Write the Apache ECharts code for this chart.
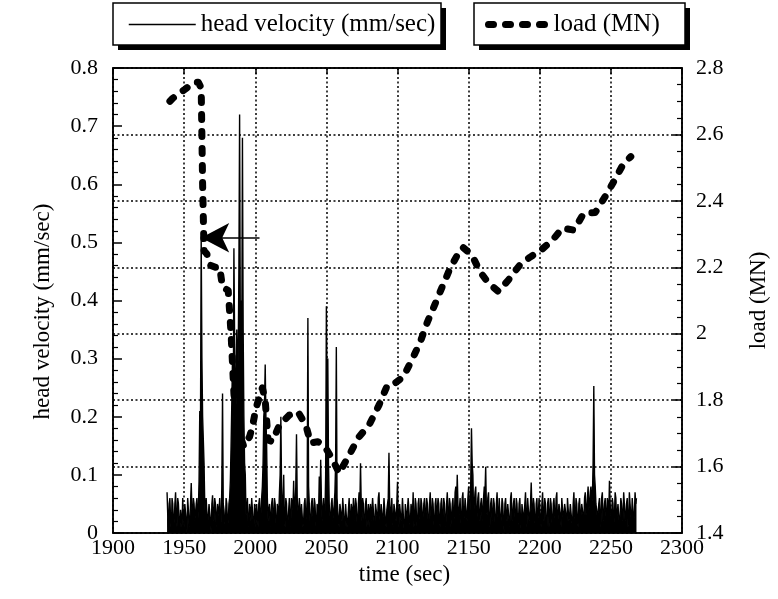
<!DOCTYPE html>
<html>
<head>
<meta charset="utf-8">
<title>head velocity and load</title>
<script src="https://cdn.jsdelivr.net/npm/echarts@6/dist/echarts.min.js"></script>
<style>
  html, body { margin: 0; padding: 0; background: #fff; }
  #chart { width: 778px; height: 599px; }
</style>
</head>
<body>
<div id="chart"></div>
<script>
// Logged head velocity (mm/sec). The logger writes two readings per second:
// one on the whole second (headVelocityWhole) and one half a second later
// (headVelocityHalf), both starting at velocityStartSec.
const velocityStartSec = 1938;
const headVelocityWhole = [
  0.07, 0.01, 0.06, 0.00, 0.05, 0.02, 0.07, 0.01, 0.05, 0.00,
  0.04, 0.06, 0.01, 0.05, 0.00, 0.04, 0.02, 0.086, 0.01, 0.05,
  0.02, 0.06, 0.04, 0.21, 0.51, 0.20, 0.12, 0.02, 0.06, 0.01,
  0.05, 0.00, 0.065, 0.02, 0.05, 0.01, 0.04, 0.06, 0.02, 0.24,
  0.04, 0.01, 0.05, 0.02, 0.06, 0.15, 0.30, 0.49, 0.25, 0.35,
  0.30, 0.72, 0.40, 0.68, 0.20, 0.10, 0.04, 0.01, 0.05, 0.02,
  0.06, 0.00, 0.04, 0.05, 0.01, 0.06, 0.03, 0.08, 0.20, 0.29,
  0.15, 0.02, 0.05, 0.01, 0.06, 0.02, 0.05, 0.00, 0.04, 0.07,
  0.20, 0.03, 0.10, 0.01, 0.05, 0.02, 0.06, 0.01, 0.05, 0.09,
  0.02, 0.17, 0.04, 0.06, 0.01, 0.05, 0.02, 0.06, 0.03, 0.37,
  0.05, 0.01, 0.06, 0.02, 0.05, 0.00, 0.04, 0.097, 0.126, 0.02,
  0.06, 0.03, 0.39, 0.30, 0.05, 0.01, 0.06, 0.02, 0.07, 0.32,
  0.04, 0.01, 0.05, 0.02, 0.06, 0.00, 0.05, 0.02, 0.06, 0.01,
  0.04, 0.06, 0.02, 0.05, 0.01, 0.07, 0.12, 0.02, 0.05, 0.01,
  0.06, 0.03, 0.01, 0.05, 0.02, 0.06, 0.00, 0.05, 0.02, 0.07,
  0.01, 0.05, 0.03, 0.06, 0.01, 0.05, 0.138, 0.02, 0.06, 0.01,
  0.05, 0.02, 0.088, 0.01, 0.05, 0.03, 0.06, 0.00, 0.05, 0.02,
  0.06, 0.01, 0.04, 0.07, 0.02, 0.05, 0.00, 0.06, 0.02, 0.05,
  0.01, 0.06, 0.03, 0.05, 0.01, 0.07, 0.02, 0.05, 0.00, 0.06,
  0.02, 0.05, 0.01, 0.06, 0.03, 0.05, 0.01, 0.07, 0.02, 0.05,
  0.01, 0.06, 0.03, 0.08, 0.10, 0.02, 0.06, 0.01, 0.07, 0.03,
  0.06, 0.02, 0.08, 0.04, 0.18, 0.10, 0.05, 0.08, 0.03, 0.07,
  0.02, 0.06, 0.04, 0.08, 0.114, 0.03, 0.07, 0.01, 0.06, 0.03,
  0.05, 0.01, 0.07, 0.02, 0.06, 0.03, 0.05, 0.00, 0.06, 0.02,
  0.05, 0.01, 0.07, 0.03, 0.06, 0.01, 0.05, 0.02, 0.06, 0.00,
  0.05, 0.02, 0.07, 0.01, 0.06, 0.03, 0.087, 0.02, 0.05, 0.01,
  0.06, 0.03, 0.05, 0.01, 0.07, 0.02, 0.05, 0.00, 0.06, 0.03,
  0.05, 0.01, 0.06, 0.02, 0.07, 0.03, 0.05, 0.01, 0.06, 0.02,
  0.05, 0.00, 0.06, 0.03, 0.05, 0.01, 0.07, 0.02, 0.05, 0.01,
  0.06, 0.03, 0.05, 0.02, 0.07, 0.04, 0.08, 0.05, 0.08, 0.06,
  0.253, 0.08, 0.04, 0.02, 0.06, 0.01, 0.07, 0.03, 0.06, 0.02,
  0.05, 0.09, 0.03, 0.06, 0.01, 0.07, 0.02, 0.05, 0.01, 0.06,
  0.03, 0.07, 0.02, 0.05, 0.01, 0.07, 0.03, 0.06, 0.02, 0.07,
  0.06
];
const headVelocityHalf = [
  0.03, 0.05, 0.02, 0.06, 0.01, 0.05, 0.03, 0.06, 0.02, 0.04,
  0.01, 0.03, 0.05, 0.02, 0.06, 0.01, 0.05, 0.04, 0.06, 0.02,
  0.05, 0.01, 0.09, 0.18, 0.30, 0.16, 0.05, 0.06, 0.01, 0.05,
  0.02, 0.05, 0.03, 0.06, 0.01, 0.05, 0.03, 0.01, 0.08, 0.05,
  0.02, 0.06, 0.01, 0.05, 0.09, 0.22, 0.18, 0.33, 0.20, 0.28,
  0.45, 0.35, 0.30, 0.35, 0.12, 0.03, 0.06, 0.02, 0.04, 0.06,
  0.02, 0.05, 0.01, 0.03, 0.05, 0.02, 0.06, 0.12, 0.22, 0.20,
  0.06, 0.04, 0.01, 0.05, 0.03, 0.06, 0.02, 0.05, 0.03, 0.10,
  0.08, 0.05, 0.02, 0.06, 0.01, 0.04, 0.03, 0.06, 0.04, 0.02,
  0.08, 0.06, 0.02, 0.04, 0.05, 0.01, 0.05, 0.02, 0.06, 0.08,
  0.02, 0.05, 0.03, 0.06, 0.02, 0.05, 0.03, 0.05, 0.06, 0.04,
  0.02, 0.10, 0.25, 0.12, 0.03, 0.05, 0.02, 0.05, 0.12, 0.06,
  0.02, 0.05, 0.03, 0.06, 0.02, 0.05, 0.01, 0.04, 0.03, 0.05,
  0.02, 0.04, 0.06, 0.02, 0.05, 0.04, 0.05, 0.06, 0.02, 0.05,
  0.01, 0.05, 0.04, 0.02, 0.06, 0.02, 0.05, 0.03, 0.06, 0.03,
  0.05, 0.02, 0.06, 0.02, 0.04, 0.06, 0.05, 0.04, 0.02, 0.05,
  0.03, 0.05, 0.03, 0.05, 0.02, 0.06, 0.01, 0.05, 0.02, 0.06,
  0.02, 0.05, 0.03, 0.01, 0.06, 0.02, 0.05, 0.03, 0.06, 0.01,
  0.05, 0.02, 0.06, 0.02, 0.05, 0.03, 0.06, 0.02, 0.05, 0.02,
  0.06, 0.02, 0.05, 0.01, 0.06, 0.02, 0.05, 0.03, 0.06, 0.01,
  0.05, 0.02, 0.07, 0.04, 0.05, 0.04, 0.02, 0.06, 0.02, 0.06,
  0.03, 0.06, 0.02, 0.09, 0.12, 0.03, 0.07, 0.02, 0.06, 0.03,
  0.05, 0.02, 0.06, 0.07, 0.04, 0.06, 0.02, 0.05, 0.02, 0.06,
  0.02, 0.05, 0.03, 0.06, 0.01, 0.06, 0.02, 0.05, 0.03, 0.05,
  0.02, 0.06, 0.02, 0.05, 0.03, 0.06, 0.01, 0.05, 0.02, 0.05,
  0.02, 0.05, 0.03, 0.06, 0.02, 0.05, 0.04, 0.06, 0.02, 0.05,
  0.02, 0.06, 0.02, 0.05, 0.03, 0.06, 0.02, 0.05, 0.01, 0.06,
  0.02, 0.05, 0.03, 0.06, 0.01, 0.05, 0.03, 0.06, 0.02, 0.05,
  0.03, 0.06, 0.02, 0.05, 0.02, 0.05, 0.03, 0.06, 0.02, 0.05,
  0.02, 0.05, 0.03, 0.06, 0.03, 0.06, 0.04, 0.07, 0.05, 0.12,
  0.10, 0.05, 0.02, 0.05, 0.03, 0.06, 0.02, 0.05, 0.03, 0.06,
  0.03, 0.05, 0.02, 0.05, 0.03, 0.06, 0.02, 0.05, 0.03, 0.05,
  0.02, 0.05, 0.03, 0.06, 0.02, 0.05, 0.02, 0.06, 0.03, 0.05
];

// Load readings (time in sec, load in MN)
const loadTime = [
  1940, 1942, 1950, 1957, 1960, 1962, 1963, 1964, 1966, 1968,
  1972, 1975, 1977, 1981, 1983, 1985, 1987, 1992, 1996, 1998,
  2000.5, 2005, 2007, 2009, 2012, 2017, 2024, 2030, 2035.5, 2039,
  2044, 2049.5, 2054, 2059, 2066, 2073, 2080, 2087, 2093, 2098,
  2104, 2110, 2116, 2121, 2126, 2132, 2137, 2144, 2146, 2151,
  2154, 2158, 2164, 2171, 2178, 2186, 2193, 2201, 2209, 2216,
  2224, 2231, 2239, 2246, 2252, 2259, 2264
];
const loadMN = [
  2.70, 2.709, 2.734, 2.757, 2.757, 2.74, 2.45, 2.25, 2.24, 2.207,
  2.20, 2.20, 2.14, 2.13, 2.00, 1.82, 1.72, 1.66, 1.69, 1.72,
  1.776, 1.837, 1.80, 1.68, 1.675, 1.725, 1.755, 1.765, 1.725, 1.671,
  1.675, 1.656, 1.624, 1.58, 1.635, 1.69, 1.725, 1.785, 1.846, 1.85,
  1.87, 1.92, 1.975, 2.035, 2.085, 2.147, 2.197, 2.252, 2.26, 2.242,
  2.222, 2.187, 2.152, 2.127, 2.162, 2.207, 2.23, 2.252, 2.282, 2.318,
  2.312, 2.363, 2.365, 2.413, 2.458, 2.513, 2.533
];

// Axis ranges and tick steps
const timeRange = [1900, 2300];
const timeStep = 50;
const velocityRange = [0, 0.8];
const velocityStep = 0.1;
const loadRange = [1.4, 2.8];
const loadStep = 0.2;

// Arrow pointing back at the first velocity burst: [time, velocity]
const arrowTail = [2003, 0.508];
const arrowHead = [1962, 0.508];

const velocityName = 'head velocity (mm/sec)';
const loadName = 'load (MN)';

// Merge the two reading streams into one time-ordered trace
const velocityData = [];
headVelocityWhole.forEach((v, i) => {
  velocityData.push([velocityStartSec + i, v]);
  if (i < headVelocityHalf.length) {
    velocityData.push([velocityStartSec + i + 0.5, headVelocityHalf[i]]);
  }
});
const loadData = loadTime.map((t, i) => [t, loadMN[i]]);

const serif = 'Liberation Serif';
const ink = '#000';
const dotted = { color: ink, width: 1.5, type: [2, 2.5] };
const axisLineStyle = { show: true, lineStyle: { color: ink, width: 1.5 } };
const tickFont = { fontFamily: serif, fontSize: 22, color: ink };
const nameFont = { fontFamily: serif, fontSize: 23, color: ink };

// Framed legend boxes with a solid drop shadow
function legendFrame(x, y, w, h) {
  return [
    { type: 'rect', z: 0, silent: true, shape: { x: x + 5, y: y + 5, width: w, height: h }, style: { fill: ink } },
    { type: 'rect', z: 1, silent: true, shape: { x: x, y: y, width: w, height: h }, style: { fill: '#fff', stroke: ink, lineWidth: 1.5 } }
  ];
}

const legendCommon = {
  orient: 'horizontal',
  top: 12,
  padding: 0,
  z: 5,
  selectedMode: false,
  itemHeight: 14,
  itemStyle: { opacity: 0 },
  textStyle: { fontFamily: serif, fontSize: 25, color: ink }
};

const chart = echarts.init(document.getElementById('chart'), null, { renderer: 'canvas' });

chart.setOption({
  animation: false,
  backgroundColor: '#fff',
  textStyle: { fontFamily: serif, color: ink },
  graphic: legendFrame(113, 3, 328, 42).concat(legendFrame(474, 3, 211, 42)),
  grid: {
    left: 113, right: 93, top: 68, bottom: 66,
    show: true, borderColor: ink, borderWidth: 1.5, backgroundColor: 'transparent'
  },
  legend: [
    Object.assign({}, legendCommon, {
      data: [velocityName], left: 128,
      itemWidth: 67, itemGap: 5,
      lineStyle: { width: 1.5, color: ink }
    }),
    Object.assign({}, legendCommon, {
      data: [loadName], left: 485,
      itemWidth: 60, itemGap: 8,
      lineStyle: { width: 7, color: ink, type: [5, 12], cap: 'round' }
    })
  ],
  xAxis: [
    {
      type: 'value', position: 'bottom',
      min: timeRange[0], max: timeRange[1], interval: timeStep,
      name: 'time (sec)', nameLocation: 'middle', nameGap: 28,
      nameTextStyle: Object.assign({ padding: [0, 0, 0, 14] }, nameFont),
      axisLine: axisLineStyle,
      axisTick: { show: false },
      axisLabel: Object.assign({ margin: 4, formatter: v => String(v) }, tickFont),
      splitLine: { show: true, lineStyle: dotted }
    },
    {
      type: 'value', position: 'top',
      min: timeRange[0], max: timeRange[1], interval: timeStep,
      axisLine: axisLineStyle,
      axisTick: { show: true, inside: true, length: 6, lineStyle: { color: ink, width: 1.5 } },
      axisLabel: { show: false },
      splitLine: { show: false }
    }
  ],
  yAxis: [
    {
      type: 'value', position: 'left',
      min: velocityRange[0], max: velocityRange[1], interval: velocityStep,
      name: velocityName, nameLocation: 'middle', nameGap: 59, nameRotate: 90,
      nameTextStyle: Object.assign({ padding: [0, 22, 0, 0] }, nameFont),
      axisLine: axisLineStyle,
      axisTick: { show: true, inside: true, length: 9, lineStyle: { color: ink, width: 1.5 } },
      minorTick: { show: true, splitNumber: 5, length: 5, lineStyle: { color: ink, width: 1.2 } },
      axisLabel: Object.assign({ margin: 15 }, tickFont),
      splitLine: { show: false }
    },
    {
      type: 'value', position: 'right',
      min: loadRange[0], max: loadRange[1], interval: loadStep,
      name: loadName, nameLocation: 'middle', nameGap: 65, nameRotate: 90,
      nameTextStyle: nameFont,
      axisLine: axisLineStyle,
      axisTick: { show: true, inside: true, length: 9, lineStyle: { color: ink, width: 1.5 } },
      minorTick: { show: true, splitNumber: 4, length: 5, lineStyle: { color: ink, width: 1.2 } },
      axisLabel: Object.assign({ margin: 14 }, tickFont),
      splitLine: { show: true, lineStyle: dotted }
    }
  ],
  series: [
    {
      name: velocityName,
      type: 'line',
      xAxisIndex: 0, yAxisIndex: 0,
      data: velocityData,
      symbol: 'none',
      itemStyle: { color: ink },
      lineStyle: { color: ink, width: 1.4 },
      // the trace is sampled faster than the screen resolves, so the band under it reads as solid ink
      areaStyle: { color: ink, opacity: 1, origin: 'start' },
      z: 2,
      markLine: {
        silent: true,
        symbol: ['none', 'arrow'],
        symbolSize: [22, 28],
        label: { show: false },
        lineStyle: { color: ink, width: 1.5, type: 'solid' },
        data: [[{ coord: arrowTail }, { coord: arrowHead }]]
      }
    },
    {
      name: loadName,
      type: 'line',
      xAxisIndex: 0, yAxisIndex: 1,
      data: loadData,
      symbol: 'none',
      itemStyle: { color: ink },
      lineStyle: { color: ink, width: 7, type: [5, 12], cap: 'round', join: 'round' },
      z: 3
    }
  ]
});
</script>
</body>
</html>
